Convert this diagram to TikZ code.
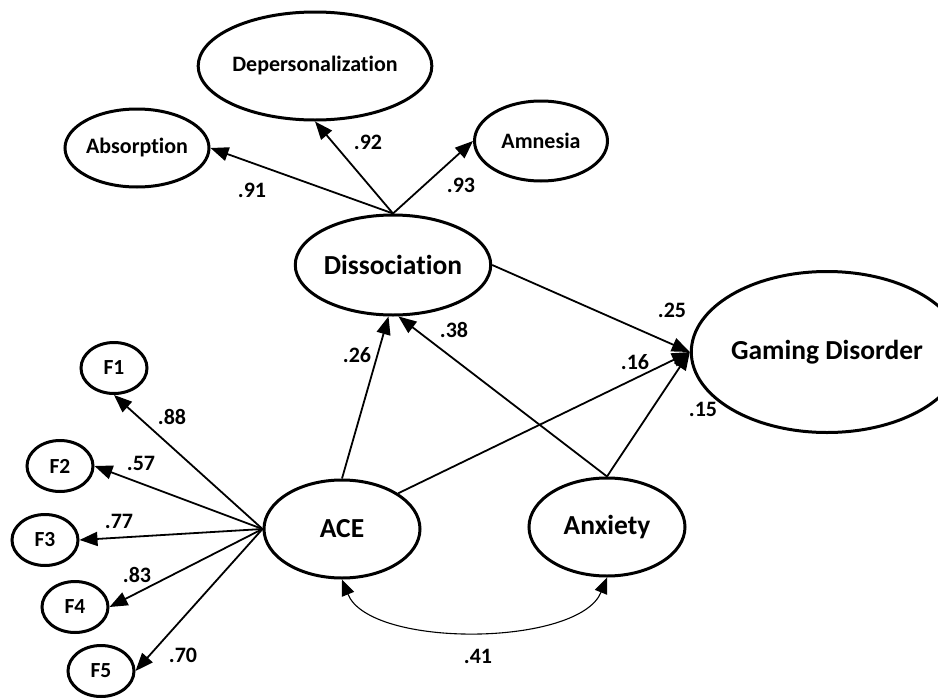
\documentclass[tikz,border=0pt]{standalone}
\usepackage{fontspec}
\setmainfont[Ligatures=NoCommon]{Carlito}
\usetikzlibrary{shapes.geometric,arrows.meta}
\tikzset{
  lat/.style={ellipse, draw, line width=3pt, inner sep=0pt, font=\bfseries\fontsize{27.5}{30}\selectfont},
  ind/.style={ellipse, draw, line width=3pt, inner sep=0pt, font=\bfseries\fontsize{22}{24}\selectfont},
  fac/.style={ellipse, draw, line width=3pt, inner sep=0pt, minimum width=66pt, minimum height=51pt, font=\bfseries\fontsize{21.5}{23}\selectfont},
  coef/.style={font=\bfseries\fontsize{22}{24}\selectfont, inner sep=0pt},
  arr/.style={line width=1.8pt, -{Triangle[length=18pt,width=14pt]}},
  cov/.style={line width=1.1pt, {Triangle[length=16pt,width=13pt]}-{Triangle[length=16pt,width=13pt]}}
}
\begin{document}
\begin{tikzpicture}[x=1pt,y=-1pt]
\useasboundingbox (0,0) rectangle (938,699);
% indicators of dissociation
\node[ind, minimum width=185pt, minimum height=108pt] (dep) at (315,66) {Depersonalization};
\node[ind, minimum width=132pt, minimum height=78pt] (abs) at (137,148) {Absorption};
\node[ind, minimum width=133pt, minimum height=80pt] (amn) at (541,141) {Amnesia};
% latent variables
\node[lat, minimum width=155pt, minimum height=100pt] (diss) at (393,265) {Dissociation};
\node[lat, minimum width=216pt, minimum height=161pt] (gd) at (827,352) {Gaming Disorder};
\node[lat, minimum width=156pt, minimum height=98pt] (ace) at (342,529) {ACE};
\node[lat, minimum width=156pt, minimum height=98pt] (anx) at (607,527) {Anxiety};
% ACE factors
\node[fac] (f1) at (114,368) {F1};
\node[fac] (f2) at (60,466) {F2};
\node[fac] (f3) at (45,540) {F3};
\node[fac] (f4) at (75,607) {F4};
\node[fac] (f5) at (101,671) {F5};
% dissociation loadings
\draw[arr] (diss.north) -- (abs.east);
\draw[arr] (diss.north) -- (dep.south);
\draw[arr] (diss.north) -- (amn.west);
% ACE loadings
\draw[arr] (ace.west) -- (f1.south);
\draw[arr] (ace.west) -- (f2.east);
\draw[arr] (ace.west) -- (f3.east);
\draw[arr] (ace.west) -- (f4.east);
\draw[arr] (ace.west) -- (f5.east);
% structural paths
\draw[arr] (diss.east) -- (gd.west);
\draw[arr] (ace.north) -- (diss.265);
\draw[arr] (anx.north) -- (diss.276);
\draw[arr] (ace.north east) -- (gd.west);
\draw[arr] (anx.north) -- (gd.west);
% covariance
\draw[cov] (ace.south) to[out=-68, in=-112, looseness=0.72] (anx.south);
% coefficients
\node[coef] (c92) at (368,142) {.92};
\node[coef] (c91) at (252,190) {.91};
\node[coef] (c93) at (461,185) {.93};
\node[coef] (c25) at (672,310) {.25};
\node[coef] (c26) at (357,355) {.26};
\node[coef] (c38) at (454,330) {.38};
\node[coef] (c16) at (635,362) {.16};
\node[coef] (c15) at (703,409) {.15};
\node[coef] (c88) at (172,417) {.88};
\node[coef] (c57) at (141,463) {.57};
\node[coef] (c77) at (119,521) {.77};
\node[coef] (c83) at (137,575) {.83};
\node[coef] (c70) at (183,655) {.70};
\node[coef] (c41) at (478,656) {.41};
\end{tikzpicture}
\end{document}
